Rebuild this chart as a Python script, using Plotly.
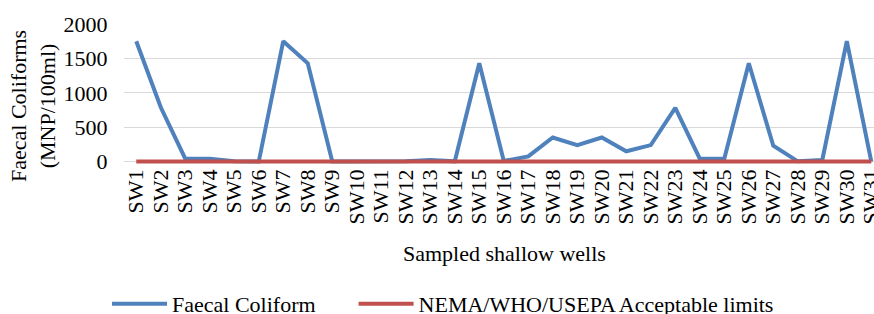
import plotly.graph_objects as go

wells = [f"SW{i}" for i in range(1, 32)]
faecal = [1750, 790, 43, 43, 4, 0, 1750, 1430, 0, 0, 7, 4, 23, 4, 1430, 9,
          75, 350, 240, 350, 150, 240, 780, 43, 43, 1430, 230, 4, 23, 1750, 0]
limits = [0] * 31
y_ticks = [0, 500, 1000, 1500, 2000]

BLUE = "#4F81BD"
RED = "#C0504D"
FONT = "Liberation Serif"

fig = go.Figure()
fig.add_trace(go.Scatter(x=wells, y=faecal, mode="lines",
                         name="Faecal Coliform" + "\u00a0" * 6,
                         line=dict(color=BLUE, width=4)))
fig.add_trace(go.Scatter(x=wells, y=limits, mode="lines", name="NEMA/WHO/USEPA Acceptable limits",
                         line=dict(color=RED, width=4)))

fig.update_layout(
    width=874, height=314,
    margin=dict(l=124, r=0, t=24, b=150),
    paper_bgcolor="white", plot_bgcolor="white",
    font=dict(family=FONT, size=22, color="black"),
    showlegend=True,
    legend=dict(orientation="h", xref="container", yref="container",
                x=107 / 874, xanchor="left", y=10 / 314, yanchor="middle",
                font=dict(family=FONT, size=22), itemwidth=55,
                bgcolor="rgba(0,0,0,0)"),
    xaxis=dict(type="category", range=[-0.5, 30.11], tickangle=-90, showgrid=False,
               showline=False, zeroline=False, tickfont=dict(family=FONT, size=22),
               tickmode="array", tickvals=wells, ticktext=wells,
               ticks="", fixedrange=True, automargin=False),
    yaxis=dict(range=[-35, 2000], tickmode="array", tickvals=y_ticks,
               showgrid=True, gridcolor="#D9D9D9", gridwidth=1, zeroline=False,
               showline=False, tickfont=dict(family=FONT, size=22), ticks="outside",
               ticklen=11, tickcolor="rgba(0,0,0,0)", automargin=False, fixedrange=True),
    annotations=[
        dict(text="Faecal Coliforms<br>(MNP/100ml)", xref="paper", yref="paper",
             x=(33 - 124) / 750, y=(164 - 106) / 140, xanchor="center", yanchor="middle",
             textangle=-90, showarrow=False, font=dict(family=FONT, size=22)),
        dict(text="Sampled shallow wells", xref="paper", yref="paper",
             x=(504 - 124) / 750, y=(164 - 253) / 140, xanchor="center", yanchor="middle",
             showarrow=False, font=dict(family=FONT, size=22)),
    ],
)

fig.write_html("out.html", config={"displayModeBar": False},
               post_script="document.body.style.margin='0';")
